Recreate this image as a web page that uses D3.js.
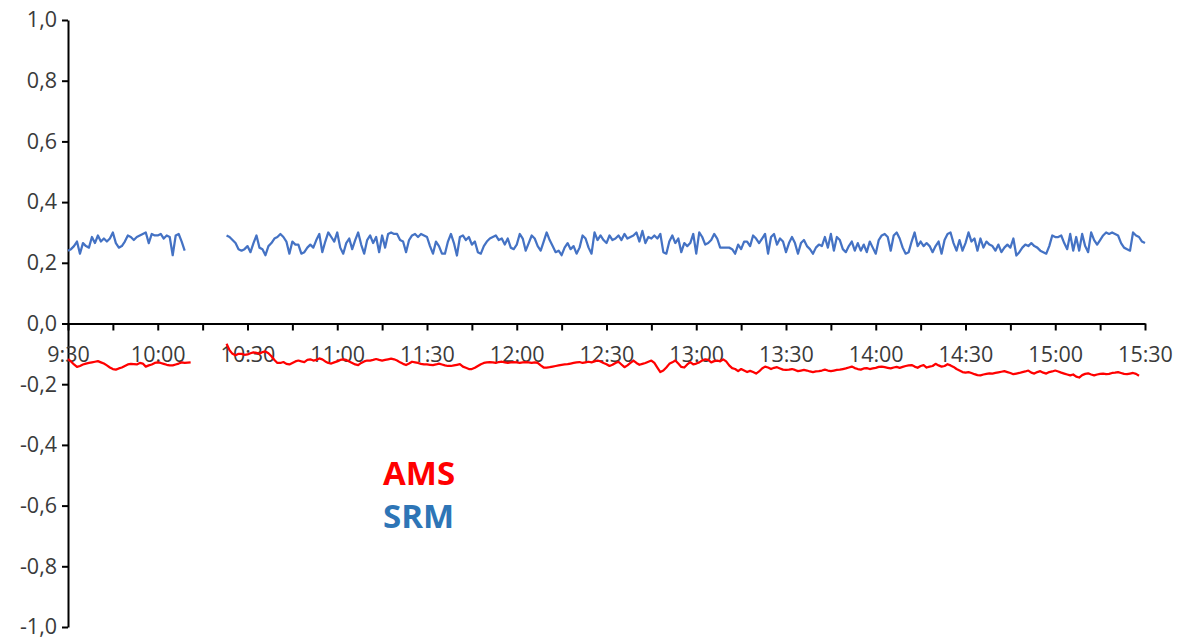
<!DOCTYPE html>
<html>
<head>
<meta charset="utf-8">
<script src="https://cdn.jsdelivr.net/npm/d3@7"></script>
<style>
  body { margin: 0; background: #fff; }
</style>
</head>
<body>
<div id="chart"></div>
<script>
// time axis: one reading per minute from 9:30 to 15:30
const startTime = new Date(2000, 0, 1, 9, 30);
const endTime = new Date(2000, 0, 1, 15, 30);
const yTicks = [-1, -0.8, -0.6, -0.4, -0.2, 0, 0.2, 0.4, 0.6, 0.8, 1];
const seriesNames = ['AMS', 'SRM'];

// SRM, index = minutes after 9:30 (null = no data)
const srm = [
  .24,.245,.255,.27,.23,.265,.255,.25,.285,.265,
  .29,.27,.28,.27,.28,.30,.265,.25,.255,.27,
  .29,.285,.275,.285,.29,.295,.30,.265,.295,.29,
  .29,.295,.28,.29,.285,.225,.29,.295,.27,.24,
  null,null,null,null,null,null,null,null,null,null,
  null,null,null,.29,.285,.275,.265,.245,.24,.245,
  .255,.235,.265,.29,.25,.245,.225,.255,.265,.28,
  .285,.295,.285,.27,.23,.27,.26,.26,.23,.235,
  .25,.26,.25,.275,.295,.235,.27,.30,.285,.27,
  .30,.25,.23,.265,.28,.245,.275,.30,.26,.23,
  .275,.29,.265,.285,.235,.29,.25,.295,.30,.295,
  .295,.275,.27,.235,.275,.29,.295,.285,.295,.29,
  .285,.255,.23,.27,.255,.23,.23,.27,.295,.265,
  .224,.285,.29,.275,.285,.26,.27,.235,.23,.255,
  .27,.28,.285,.29,.275,.28,.26,.28,.25,.245,
  .26,.295,.28,.24,.265,.29,.28,.255,.24,.27,
  .30,.275,.255,.235,.24,.225,.25,.265,.245,.255,
  .23,.25,.29,.28,.25,.23,.30,.275,.29,.275,
  .265,.29,.275,.28,.29,.275,.295,.28,.285,.29,
  .30,.27,.305,.265,.285,.28,.29,.28,.295,.235,
  .23,.27,.29,.265,.28,.235,.265,.255,.265,.295,
  .23,.30,.285,.26,.265,.275,.295,.28,.25,.25,
  .25,.25,.245,.23,.26,.245,.27,.27,.255,.29,
  .28,.265,.28,.295,.23,.285,.295,.26,.28,.27,
  .235,.265,.285,.265,.23,.265,.275,.255,.245,.23,
  .25,.26,.255,.285,.25,.295,.24,.285,.275,.245,
  .235,.255,.27,.24,.265,.24,.26,.235,.27,.25,
  .23,.275,.29,.295,.285,.24,.29,.30,.28,.25,
  .23,.235,.27,.30,.255,.27,.255,.265,.255,.235,
  .255,.27,.23,.275,.295,.30,.265,.24,.275,.24,
  .265,.30,.27,.28,.24,.28,.25,.27,.26,.255,
  .24,.26,.235,.25,.26,.25,.28,.224,.235,.25,
  .26,.255,.265,.255,.25,.24,.235,.23,.255,.29,
  .285,.285,.29,.265,.245,.295,.24,.285,.24,.295,
  .255,.235,.30,.275,.26,.275,.29,.30,.295,.30,
  .295,.29,.265,.25,.245,.24,.30,.29,.285,.27,.265
];

// AMS, same minute index
const ams = [
  -.117,-.125,-.135,-.143,-.14,-.135,-.132,-.13,-.128,-.126,
  -.124,-.128,-.132,-.138,-.145,-.15,-.152,-.148,-.145,-.14,
  -.135,-.133,-.134,-.135,-.13,-.132,-.142,-.138,-.135,-.13,
  -.128,-.13,-.133,-.136,-.138,-.138,-.135,-.132,-.128,-.13,
  -.129,-.128,null,null,null,null,null,null,null,null,
  null,null,null,-.067,-.088,-.10,-.105,-.10,-.10,-.103,
  -.102,-.098,-.095,-.097,-.10,-.094,-.092,-.098,-.108,-.12,
  -.13,-.13,-.127,-.133,-.135,-.13,-.125,-.122,-.125,-.127,
  -.12,-.118,-.122,-.12,-.115,-.118,-.125,-.13,-.132,-.128,
  -.125,-.12,-.118,-.12,-.125,-.13,-.135,-.137,-.13,-.125,
  -.122,-.122,-.12,-.117,-.12,-.122,-.12,-.118,-.116,-.118,
  -.122,-.128,-.133,-.137,-.132,-.126,-.128,-.13,-.133,-.135,
  -.135,-.136,-.137,-.135,-.132,-.135,-.138,-.14,-.14,-.138,
  -.136,-.134,-.142,-.146,-.15,-.15,-.146,-.14,-.134,-.13,
  -.128,-.127,-.128,-.13,-.127,-.126,-.128,-.13,-.128,-.127,
  -.128,-.13,-.128,-.127,-.128,-.13,-.128,-.13,-.138,-.145,
  -.145,-.144,-.142,-.14,-.138,-.136,-.135,-.134,-.132,-.13,
  -.128,-.127,-.13,-.128,-.126,-.128,-.125,-.122,-.125,-.13,
  -.134,-.14,-.136,-.13,-.126,-.135,-.144,-.138,-.13,-.122,
  -.13,-.136,-.133,-.13,-.126,-.122,-.13,-.145,-.16,-.155,
  -.145,-.133,-.128,-.122,-.132,-.143,-.145,-.135,-.127,-.135,
  -.132,-.128,-.122,-.118,-.12,-.128,-.124,-.122,-.125,-.118,
  -.125,-.138,-.147,-.15,-.157,-.15,-.155,-.16,-.156,-.16,
  -.165,-.158,-.148,-.142,-.145,-.15,-.146,-.144,-.148,-.152,
  -.153,-.152,-.15,-.153,-.157,-.155,-.153,-.155,-.158,-.16,
  -.158,-.157,-.155,-.152,-.155,-.157,-.155,-.153,-.152,-.15,
  -.148,-.145,-.142,-.147,-.15,-.152,-.148,-.147,-.15,-.148,
  -.146,-.143,-.142,-.144,-.146,-.148,-.145,-.143,-.146,-.143,
  -.14,-.138,-.137,-.142,-.146,-.14,-.137,-.145,-.142,-.14,
  -.133,-.138,-.142,-.14,-.134,-.138,-.143,-.15,-.155,-.16,
  -.162,-.16,-.163,-.167,-.17,-.171,-.168,-.166,-.164,-.165,
  -.163,-.161,-.159,-.157,-.16,-.163,-.167,-.165,-.163,-.16,
  -.158,-.155,-.162,-.165,-.16,-.157,-.162,-.165,-.16,-.158,
  -.155,-.158,-.162,-.165,-.168,-.171,-.168,-.175,-.178,-.17,
  -.166,-.164,-.168,-.171,-.168,-.166,-.165,-.167,-.166,-.163,
  -.162,-.16,-.163,-.166,-.167,-.165,-.163,-.166,-.172,null,null
];

const w = 1184, h = 642;
const axisCol = '#000';
const labelCol = '#3a3a3a';
const font = '"Open Sans", sans-serif';

const x = d3.scaleTime()
  .domain([startTime, endTime])
  .range([68, 1145]);

const y = d3.scaleLinear()
  .domain([-1, 1])
  .range([627, 20]);

const commaFmt = d3.formatLocale({
  decimal: ',', thousands: '.', grouping: [3], currency: ['', ''], minus: '-'
}).format('.1f');

const svg = d3.select('#chart')
  .append('svg')
  .attr('width', w)
  .attr('height', h);

// y axis
const yAxis = svg.append('g')
  .attr('transform', `translate(${x(startTime)},0)`)
  .call(d3.axisLeft(y).tickValues(yTicks).tickSize(6).tickSizeOuter(0).tickPadding(5).tickFormat(commaFmt));

// x axis: minor ticks every 15 min, labels every 30 min
const tickEnd = new Date(+endTime + 1);
const xMinor = svg.append('g')
  .attr('transform', `translate(0,${y(0)})`)
  .call(d3.axisBottom(x)
    .tickValues(d3.timeMinute.every(15).range(startTime, tickEnd))
    .tickSize(7).tickSizeOuter(0).tickFormat(''));

const xMajor = svg.append('g')
  .attr('transform', `translate(0,${y(0)})`)
  .call(d3.axisBottom(x)
    .tickValues(d3.timeMinute.every(30).range(startTime, tickEnd))
    .tickSize(0).tickSizeOuter(0).tickPadding(23)
    .tickFormat(d3.timeFormat('%-H:%M')));
xMajor.select('.domain').remove();

[yAxis, xMinor].forEach(g => {
  g.select('.domain').attr('stroke', axisCol).attr('stroke-width', 2);
  g.selectAll('.tick line').attr('stroke', axisCol).attr('stroke-width', 2);
});

[yAxis, xMajor].forEach(g => {
  g.selectAll('.tick text')
    .attr('fill', labelCol)
    .style('font-family', font)
    .style('font-size', '21.5px');
});

// series lines
const line = d3.line()
  .defined(d => d !== null)
  .x((d, i) => x(d3.timeMinute.offset(startTime, i)))
  .y(d => y(d));

svg.append('path')
  .datum(srm)
  .attr('fill', 'none')
  .attr('stroke', '#4472c4')
  .attr('stroke-width', 2.25)
  .attr('stroke-linejoin', 'round')
  .attr('d', line);

svg.append('path')
  .datum(ams)
  .attr('fill', 'none')
  .attr('stroke', '#ff0000')
  .attr('stroke-width', 2.25)
  .attr('stroke-linejoin', 'round')
  .attr('d', line);

// series labels
const labelColors = ['#ff0000', '#2e75b6'];
svg.selectAll('text.series')
  .data(seriesNames)
  .join('text')
  .attr('class', 'series')
  .attr('x', 383)
  .attr('y', (d, i) => 485 + i * 43)
  .attr('fill', (d, i) => labelColors[i])
  .style('font-family', font)
  .style('font-weight', '700')
  .style('font-size', '33px')
  .text(d => d);
</script>
</body>
</html>
